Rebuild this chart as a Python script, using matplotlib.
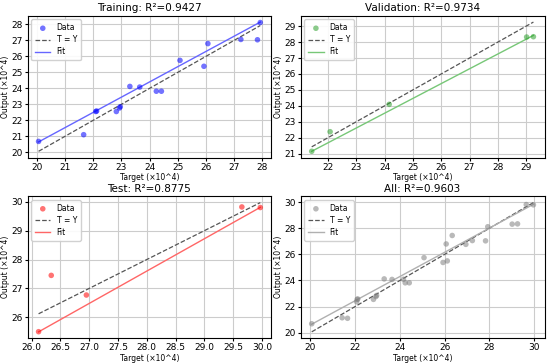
import numpy as np
import matplotlib
matplotlib.use("Agg")
import matplotlib.pyplot as plt
from matplotlib.ticker import MultipleLocator

train_x = [20.06, 21.66, 22.09, 22.12, 22.82, 22.93, 22.96, 23.30, 23.65, 24.24, 24.42, 25.08, 25.93, 26.07, 27.24, 27.83, 27.93]
train_y = [20.68, 21.10, 22.55, 22.58, 22.55, 22.77, 22.85, 24.12, 24.08, 23.82, 23.82, 25.75, 25.38, 26.80, 27.06, 27.04, 28.12]
val_x = [21.42, 22.07, 24.16, 29.02, 29.26]
val_y = [21.14, 22.37, 24.09, 28.32, 28.34]
test_x = [26.12, 26.34, 26.95, 29.65, 29.97]
test_y = [25.50, 27.45, 26.77, 29.82, 29.80]

# fitted line (slope, intercept) per panel, as shown in the chart
fit_slopes = [0.953, 0.929, 1.12, 0.928]
fit_intercepts = [1.53, 1.24, -3.76, 2.03]

titles = ["Training: R²=0.9427", "Validation: R²=0.9734", "Test: R²=0.8775", "All: R²=0.9603"]
colors = ["blue", "tab:green", "red", "gray"]
fit_colors = ["#6666ff", "#77c777", "#ff6666", "#b0b0b0"]
x_steps = [1, 1, 0.5, 2]
y_steps = [1, 1, 1, 2]

all_x = train_x + val_x + test_x
all_y = train_y + val_y + test_y
sets = [(train_x, train_y), (val_x, val_y), (test_x, test_y), (all_x, all_y)]

fig, axes = plt.subplots(2, 2, figsize=(5.5, 3.63), dpi=100)
for i, (ax, (x, y)) in enumerate(zip(axes.flat, sets)):
    x = np.array(x); y = np.array(y)
    ax.scatter(x, y, color=colors[i], alpha=0.55, s=16, label="Data", edgecolors="none", zorder=3)
    lo, hi = x.min(), x.max()
    ax.plot([lo, hi], [lo, hi], "--", color="#555555", lw=0.9, label="T = Y", zorder=2)
    m, b = fit_slopes[i], fit_intercepts[i]
    ax.plot([lo, hi], [m * lo + b, m * hi + b], color=fit_colors[i], lw=1.0, label="Fit", zorder=2)
    ax.set_title(titles[i], fontsize=7.5, pad=3)
    ax.set_xlabel("Target (×10^4)", fontsize=5.5, labelpad=1)
    ax.set_ylabel("Output (×10^4)", fontsize=5.5, labelpad=1)
    ax.xaxis.set_major_locator(MultipleLocator(x_steps[i]))
    ax.yaxis.set_major_locator(MultipleLocator(y_steps[i]))
    ax.tick_params(labelsize=6.5, length=2, pad=1.5)
    ax.grid(True, color="#cccccc", lw=0.8)
    ax.set_axisbelow(True)
    ax.legend(loc="upper left", fontsize=5.5, framealpha=0.9, handlelength=2, borderpad=0.5, labelspacing=0.4)

plt.subplots_adjust(left=0.05, right=0.99, top=0.957, bottom=0.068, hspace=0.27, wspace=0.12)
fig.savefig("out.png", dpi=100)
